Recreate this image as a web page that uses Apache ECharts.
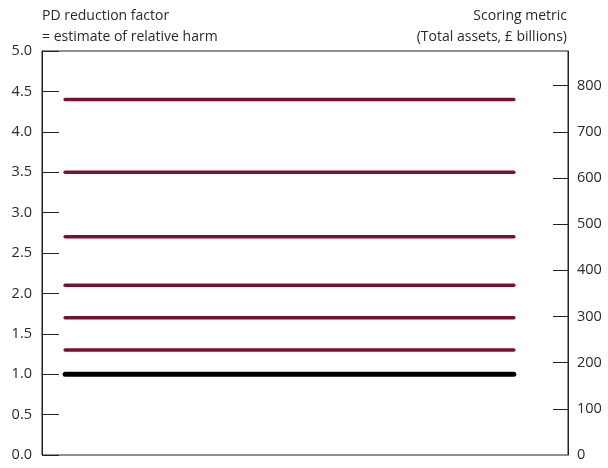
<!DOCTYPE html>
<html><head><meta charset="utf-8">
<script src="https://cdn.jsdelivr.net/npm/echarts@6/dist/echarts.min.js"></script>
<style>html,body{margin:0;padding:0;background:#fff}#c{width:608px;height:468px}</style>
</head><body><div id="c"></div>
<script>
// Data
const harmLevels = [4.4, 3.5, 2.7, 2.1, 1.7, 1.3];
const baseLevel = [1.0];
const lineStart = 4.4;   // x extent of the lines (percent of axis width)
const lineEnd = 89.7;
const leftTicks = [0, 0.5, 1, 1.5, 2, 2.5, 3, 3.5, 4, 4.5, 5];
const rightTicks = [0, 100, 200, 300, 400, 500, 600, 700, 800];
const rightMax = 875;
const leftTitle = ['PD reduction factor', '= estimate of relative harm'];
const rightTitle = ['Scoring metric', '(Total assets, \u00a3 billions)'];

const FONT = '"Open Sans", sans-serif';
const series = [];
harmLevels.forEach(v => series.push({
  type: 'line', yAxisIndex: 0, symbol: 'none', silent: true,
  data: [[lineStart, v], [lineEnd, v]],
  lineStyle: { color: '#7a1030', width: 3.5, cap: 'round' }
}));
baseLevel.forEach(v => series.push({
  type: 'line', yAxisIndex: 0, symbol: 'none', silent: true,
  data: [[lineStart, v], [lineEnd, v]],
  lineStyle: { color: '#000', width: 5, cap: 'round' }
}));

const tStyle = { fontFamily: FONT, fontSize: 14, fill: '#2a2a2a' };
const graphics = [];
leftTitle.forEach((t, i) => graphics.push({ type: 'text', left: 42, top: 9 + i * 21,
  style: Object.assign({ text: t }, tStyle) }));
rightTitle.forEach((t, i) => graphics.push({ type: 'text', right: 41, top: 9 + i * 21,
  style: Object.assign({ text: t }, tStyle) }));

const chart = echarts.init(document.getElementById('c'), null, { renderer: 'canvas' });
chart.setOption({
  animation: false,
  backgroundColor: '#fff',
  graphic: graphics,
  grid: { left: 42, right: 40, top: 51, bottom: 13, show: true, borderColor: '#222', borderWidth: 1 },
  xAxis: { type: 'value', min: 0, max: 100, show: false },
  yAxis: [
    { type: 'value', min: 0, max: 5, interval: 0.5, position: 'left',
      axisLine: { show: true, lineStyle: { color: '#222' } },
      axisTick: { show: true, inside: true, length: 17, lineStyle: { color: '#222' } },
      splitLine: { show: false },
      axisLabel: { fontFamily: FONT, fontSize: 14.5, color: '#2a2a2a', margin: 10,
        customValues: leftTicks, formatter: v => v.toFixed(1) } },
    { type: 'value', min: 0, max: rightMax, interval: 100, position: 'right',
      axisLine: { show: true, lineStyle: { color: '#222' } },
      axisTick: { show: true, inside: true, length: 15, lineStyle: { color: '#222' },
        customValues: rightTicks.slice(1) },
      splitLine: { show: false },
      axisLabel: { fontFamily: FONT, fontSize: 14.5, color: '#2a2a2a', margin: 9,
        customValues: rightTicks, formatter: v => String(v) } }
  ],
  series: series
});
</script></body></html>
